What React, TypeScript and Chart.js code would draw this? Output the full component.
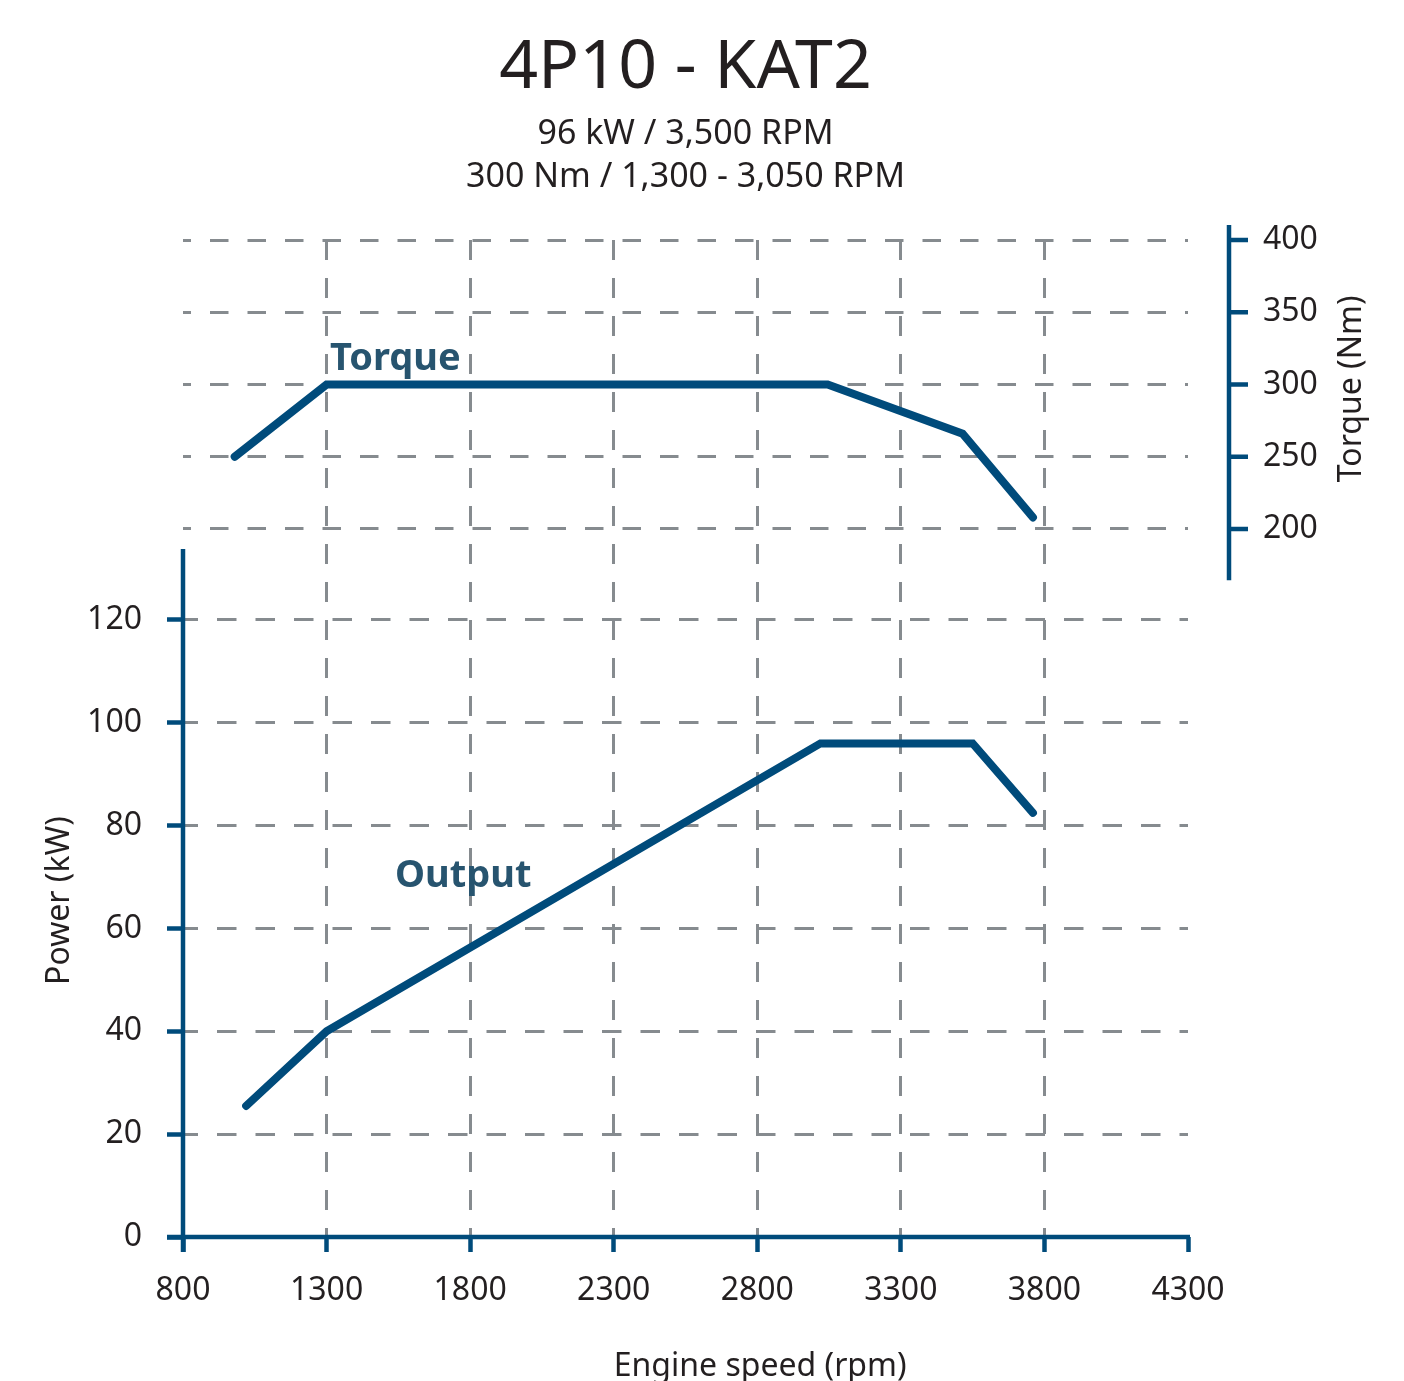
import React, { useEffect, useRef } from 'react';
import { Chart, registerables } from 'chart.js';

Chart.register(...registerables);

// ---- data ----
const xTicks = [800, 1300, 1800, 2300, 2800, 3300, 3800, 4300];
const powerTicks = [0, 20, 40, 60, 80, 100, 120];
const torqueTicks = [200, 250, 300, 350, 400];

const torqueRpm = [980, 1300, 3045, 3515, 3760];
const torqueNm = [250, 300, 300, 266, 208];

const powerRpm = [1020, 1300, 3020, 3550, 3760];
const powerKw = [25.5, 40, 96, 96, 82.5];

const titleText = '4P10 - KAT2';
const subtitleLines = ['96 kW / 3,500 RPM', '300 Nm / 1,300 - 3,050 RPM'];
const seriesLabels = ['Torque', 'Output'];
const axisTitles = { x: 'Engine speed (rpm)', power: 'Power (kW)', torque: 'Torque (Nm)' };

// ---- style ----
const FONT = '"Noto Sans", "DejaVu Sans", sans-serif';
const TEXT = '#231f20';
const LINE = '#004b7b';
const AXIS = '#004b7b';
const GRID = '#868b8f';
const LABEL = '#27546f';
const CLEAR = 'rgba(0,0,0,0)';

const X_MIN = 800;
const X_MAX = 4300;
const P_MIN = 0;
const P_MAX = 193.9;
const T_MIN = -290;
const T_MAX = 400;
const P_AXIS_TOP = 133.8;
const T_AXIS_TOP = 410.4;
const T_AXIS_BOTTOM = 164.6;

const plainLabel = (v: any) => String(v);

const customPlugin = {
  id: 'customAxes',
  afterDraw(chart: any) {
    const { ctx, chartArea, scales } = chart;
    const xs = scales.x;
    const ps = scales.power;
    const ts = scales.torque;
    ctx.save();
    ctx.strokeStyle = AXIS;
    ctx.lineWidth = 4.5;
    ctx.lineCap = 'butt';
    // left (power) axis line
    const lx = chartArea.left;
    ctx.beginPath();
    ctx.moveTo(lx, ps.getPixelForValue(P_AXIS_TOP));
    ctx.lineTo(lx, chartArea.bottom + 15);
    ctx.stroke();
    // bottom axis line
    ctx.beginPath();
    ctx.moveTo(lx - 16, chartArea.bottom);
    ctx.lineTo(chartArea.right + 2, chartArea.bottom);
    ctx.stroke();
    // right (torque) axis line + ticks
    const rx = chartArea.right + 41;
    ctx.beginPath();
    ctx.moveTo(rx, ts.getPixelForValue(T_AXIS_TOP));
    ctx.lineTo(rx, ts.getPixelForValue(T_AXIS_BOTTOM));
    ctx.stroke();
    ctx.beginPath();
    torqueTicks.forEach((v) => {
      const y = ts.getPixelForValue(v);
      ctx.moveTo(rx, y);
      ctx.lineTo(rx + 19, y);
    });
    ctx.stroke();

    // series labels
    ctx.fillStyle = LABEL;
    ctx.font = `bold 38px ${FONT}`;
    ctx.textAlign = 'left';
    ctx.textBaseline = 'alphabetic';
    ctx.fillText(seriesLabels[0], xs.getPixelForValue(1312), ts.getPixelForValue(310));
    ctx.fillText(seriesLabels[1], xs.getPixelForValue(1538), ps.getPixelForValue(68.1));

    // axis titles
    ctx.fillStyle = TEXT;
    ctx.font = `32px ${FONT}`;
    ctx.textAlign = 'center';
    ctx.textBaseline = 'alphabetic';
    ctx.fillText(axisTitles.x, xs.getPixelForValue(2810), chartArea.bottom + 139);

    ctx.textBaseline = 'middle';
    ctx.save();
    ctx.translate(60, (ps.getPixelForValue(P_AXIS_TOP) + chartArea.bottom + 15) / 2);
    ctx.rotate(-Math.PI / 2);
    ctx.fillText(axisTitles.power, 0, 0);
    ctx.restore();

    ctx.save();
    ctx.translate(rx + 123, ts.getPixelForValue(297));
    ctx.rotate(-Math.PI / 2);
    ctx.fillText(axisTitles.torque, 0, 0);
    ctx.restore();

    ctx.restore();
  },
};

export default function App() {
  const canvasRef = useRef<HTMLCanvasElement | null>(null);

  useEffect(() => {
    if (!canvasRef.current) return;
    Chart.defaults.font.family = FONT;
    Chart.defaults.color = TEXT;

    const torqueData = torqueRpm.map((r, i) => ({ x: r, y: torqueNm[i] }));
    const powerData = powerRpm.map((r, i) => ({ x: r, y: powerKw[i] }));

    const chart = new Chart(canvasRef.current, {
      type: 'line',
      data: {
        datasets: [
          {
            label: 'Torque',
            data: torqueData,
            yAxisID: 'torque',
            borderColor: LINE,
            borderWidth: 8,
            borderCapStyle: 'round',
            borderJoinStyle: 'miter',
            pointRadius: 0,
            tension: 0,
            fill: false,
          },
          {
            label: 'Output',
            data: powerData,
            yAxisID: 'power',
            borderColor: LINE,
            borderWidth: 8,
            borderCapStyle: 'round',
            borderJoinStyle: 'miter',
            pointRadius: 0,
            tension: 0,
            fill: false,
          },
        ],
      },
      options: {
        responsive: false,
        animation: false,
        devicePixelRatio: 1,
        layout: { padding: 0 },
        plugins: {
          legend: { display: false },
          tooltip: { enabled: false },
          title: {
            display: true,
            text: titleText,
            fullSize: false,
            color: TEXT,
            font: { family: FONT, size: 68, weight: 'normal', lineHeight: 1.2 },
            padding: { top: 28, bottom: 0 },
          },
          subtitle: {
            display: true,
            text: subtitleLines,
            fullSize: false,
            color: TEXT,
            font: { family: FONT, size: 34, weight: 'normal', lineHeight: 1.265 },
            padding: { top: 3, bottom: 41.4 },
          },
        },
        scales: {
          x: {
            type: 'linear',
            position: 'bottom',
            min: X_MIN,
            max: X_MAX,
            afterBuildTicks: (s: any) => {
              s.ticks = xTicks.map((v) => ({ value: v }));
            },
            afterFit: (s: any) => {
              s.height = 144;
            },
            ticks: {
              color: TEXT,
              font: { size: 32 },
              padding: 20,
              maxRotation: 0,
              minRotation: 0,
              autoSkip: false,
              callback: plainLabel,
            },
            grid: {
              color: (c: any) =>
                c.tick && (c.tick.value === X_MIN || c.tick.value === X_MAX) ? CLEAR : GRID,
              lineWidth: 3,
              tickColor: AXIS,
              tickWidth: 4.5,
              tickLength: 15,
              tickBorderDash: [],
            },
            border: { display: false, dash: [20, 18], dashOffset: 0 },
          },
          power: {
            type: 'linear',
            position: 'left',
            min: P_MIN,
            max: P_MAX,
            afterBuildTicks: (s: any) => {
              s.ticks = powerTicks.map((v) => ({ value: v }));
            },
            afterFit: (s: any) => {
              s.width = 183;
            },
            ticks: { color: TEXT, font: { size: 32 }, padding: 25, callback: plainLabel },
            grid: {
              color: (c: any) => (c.tick && c.tick.value === 0 ? CLEAR : GRID),
              lineWidth: 3,
              tickColor: AXIS,
              tickWidth: 4.5,
              tickLength: 16,
              tickBorderDash: [],
            },
            border: { display: false, dash: [19.5, 19], dashOffset: 4.5 },
          },
          torque: {
            type: 'linear',
            position: 'right',
            min: T_MIN,
            max: T_MAX,
            afterBuildTicks: (s: any) => {
              s.ticks = torqueTicks.map((v) => ({ value: v }));
            },
            afterFit: (s: any) => {
              s.width = 216;
            },
            ticks: { color: TEXT, font: { size: 32 }, padding: 75, callback: plainLabel },
            grid: {
              color: GRID,
              lineWidth: 3,
              drawTicks: false,
            },
            border: { display: false, dash: [18.5, 19], dashOffset: 10.5 },
          },
        },
      } as any,
      plugins: [customPlugin],
    });

    return () => {
      chart.destroy();
    };
  }, []);

  return (
    <div style={{ position: 'absolute', left: 0, top: 0, width: 1404, height: 1381, background: '#ffffff' }}>
      <canvas ref={canvasRef} width={1404} height={1381} style={{ display: 'block' }} />
    </div>
  );
}
